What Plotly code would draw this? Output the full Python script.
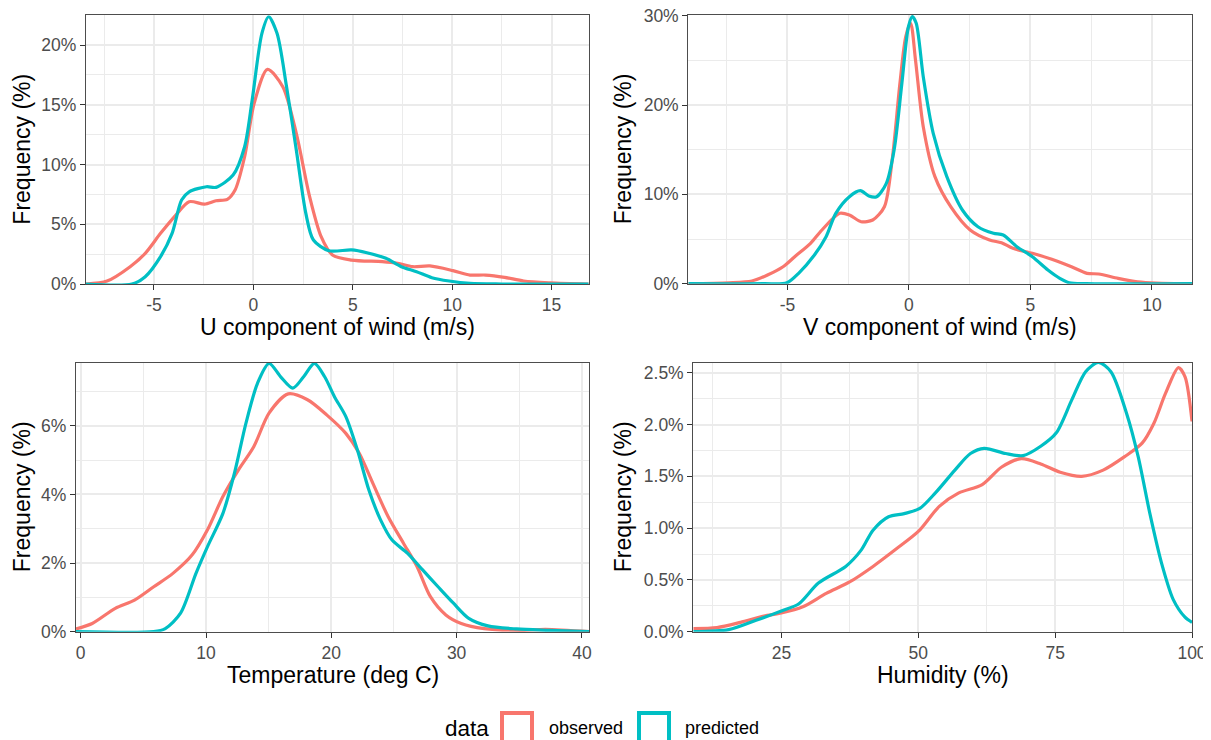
import plotly.graph_objects as go

W, H = 1211, 740
OFF = 8  # browser body margin offset
FW, FH = W - OFF, H - OFF
RED = "#F8766D"
TEAL = "#00BFC4"
FONT = "Liberation Sans, Arial, sans-serif"

# ---------------- data (density, % frequency) ----------------
# U component of wind (m/s)
u_obs_x = [-8.42, -7.36, -6.2, -5.44, -4.67, -3.9, -3.23, -2.46, -1.88, -1.31, -0.92, -0.44, 0.04, 0.71, 1.48, 2.16, 2.83, 3.41, 3.98, 4.94, 6.48, 7.26, 8.02, 8.88, 10.04, 10.9, 11.68, 12.64, 13.6, 14.94, 16.87]
u_obs_y = [0.0, 0.25, 1.45, 2.57, 4.24, 5.77, 6.89, 6.69, 6.97, 7.09, 7.87, 10.65, 15.12, 17.96, 16.51, 12.61, 7.31, 3.96, 2.43, 2.0, 1.87, 1.73, 1.45, 1.51, 1.12, 0.75, 0.75, 0.56, 0.25, 0.1, 0.0]
u_pred_x = [-8.42, -6.11, -5.44, -4.67, -4.09, -3.61, -3.23, -2.36, -1.88, -1.02, -0.44, -0.06, 0.43, 0.77, 1.19, 1.67, 2.16, 2.64, 3.02, 3.79, 4.94, 5.71, 6.67, 7.44, 8.21, 8.98, 9.85, 10.9, 12.5, 16.87]
u_pred_y = [0.0, 0.0, 0.61, 2.29, 4.24, 7.03, 7.72, 8.14, 8.09, 9.12, 11.49, 15.4, 20.98, 22.37, 20.98, 16.51, 11.21, 5.91, 3.68, 2.79, 2.85, 2.62, 2.15, 1.45, 1.03, 0.53, 0.25, 0.05, 0.0, 0.0]

# V component of wind (m/s)
v_obs_x = [-9.08, -7.42, -6.46, -5.82, -5.18, -4.7, -4.05, -3.58, -2.85, -2.45, -1.97, -1.49, -1.01, -0.69, -0.37, -0.13, 0.07, 0.27, 0.59, 1.07, 1.72, 2.52, 3.32, 3.81, 4.28, 5.08, 5.88, 6.69, 7.33, 7.81, 8.61, 9.41, 10.2, 11.65]
v_obs_y = [0.0, 0.1, 0.3, 0.97, 1.9, 3.02, 4.52, 6.01, 7.88, 7.69, 6.94, 7.13, 8.62, 13.85, 22.44, 27.66, 29.16, 25.05, 17.58, 11.98, 8.62, 6.01, 4.89, 4.59, 3.96, 3.4, 2.73, 1.9, 1.16, 1.09, 0.6, 0.22, 0.07, 0.0]
v_pred_x = [-9.08, -5.98, -5.02, -4.54, -3.89, -3.41, -3.01, -2.45, -2.0, -1.65, -1.33, -0.93, -0.61, -0.29, -0.02, 0.14, 0.3, 0.59, 1.0, 1.56, 2.2, 2.84, 3.48, 3.88, 4.44, 5.08, 5.72, 6.21, 6.6, 7.3, 11.65]
v_pred_y = [0.0, 0.0, 0.1, 1.16, 3.21, 5.26, 7.88, 9.74, 10.41, 9.82, 9.74, 11.24, 14.97, 22.44, 28.78, 29.9, 29.16, 23.18, 16.84, 11.98, 8.25, 6.38, 5.64, 5.45, 4.14, 3.02, 1.53, 0.6, 0.1, 0.0, 0.0]

# Temperature (deg C)
t_obs_x = [-0.375, 0.92, 2.76, 4.29, 5.83, 7.36, 8.9, 10.12, 11.35, 12.58, 13.81, 15.03, 16.56, 18.1, 19.63, 21.16, 22.23, 23.31, 24.54, 25.76, 26.84, 27.91, 29.14, 30.37, 32.2, 35.0, 37.1, 40.59]
t_obs_y = [0.08, 0.24, 0.68, 0.92, 1.31, 1.7, 2.24, 2.97, 3.94, 4.71, 5.39, 6.37, 6.93, 6.76, 6.32, 5.78, 5.2, 4.33, 3.35, 2.58, 1.9, 1.02, 0.49, 0.24, 0.09, 0.04, 0.07, 0.0]
t_pred_x = [-0.375, 5.83, 6.75, 7.97, 9.2, 10.12, 11.35, 12.27, 13.19, 14.11, 15.03, 15.96, 16.93, 17.79, 18.65, 19.47, 20.25, 21.16, 22.08, 23.0, 23.93, 24.85, 26.07, 27.29, 28.52, 29.75, 30.97, 32.5, 34.8, 37.4, 40.59]
t_pred_y = [0.0, 0.0, 0.09, 0.54, 1.7, 2.48, 3.45, 4.62, 6.08, 7.24, 7.82, 7.43, 7.1, 7.43, 7.82, 7.43, 6.85, 6.27, 5.3, 4.13, 3.26, 2.67, 2.29, 1.8, 1.31, 0.83, 0.39, 0.17, 0.08, 0.04, 0.0]

# Humidity (%)
h_obs_x = [8.91, 13.24, 17.52, 21.79, 25.0, 28.92, 33.19, 37.46, 41.74, 46.01, 50.06, 53.84, 57.41, 61.68, 65.24, 68.8, 72.37, 75.93, 79.85, 83.77, 87.69, 90.89, 93.02, 95.16, 97.52, 98.73, 100.0]
h_obs_y = [0.03, 0.04, 0.09, 0.15, 0.18, 0.24, 0.37, 0.48, 0.63, 0.8, 0.97, 1.21, 1.34, 1.42, 1.59, 1.67, 1.62, 1.54, 1.5, 1.56, 1.69, 1.82, 2.01, 2.3, 2.55, 2.46, 2.03]
h_pred_x = [8.91, 15.38, 20.37, 25.0, 28.2, 31.76, 36.75, 39.6, 41.74, 44.58, 47.44, 50.28, 53.13, 56.69, 59.54, 62.04, 65.96, 69.17, 72.37, 75.22, 78.06, 80.57, 82.9, 85.19, 88.04, 90.17, 92.31, 94.45, 96.58, 98.72, 100.0]
h_pred_y = [0.0, 0.02, 0.11, 0.2, 0.27, 0.47, 0.63, 0.79, 0.98, 1.11, 1.14, 1.19, 1.34, 1.56, 1.72, 1.77, 1.72, 1.7, 1.79, 1.92, 2.24, 2.51, 2.6, 2.51, 2.11, 1.69, 1.14, 0.66, 0.31, 0.14, 0.09]

# tick values / labels
u_xticks = [-5, 0, 5, 10, 15]
u_xlabels = ["-5", "0", "5", "10", "15"]
u_yticks = [0, 5, 10, 15, 20]
u_ylabels = ["0%", "5%", "10%", "15%", "20%"]
v_xticks = [-5, 0, 5, 10]
v_xlabels = ["-5", "0", "5", "10"]
v_yticks = [0, 10, 20, 30]
v_ylabels = ["0%", "10%", "20%", "30%"]
t_xticks = [0, 10, 20, 30, 40]
t_xlabels = ["0", "10", "20", "30", "40"]
t_yticks = [0, 2, 4, 6]
t_ylabels = ["0%", "2%", "4%", "6%"]
h_xticks = [25, 50, 75, 100]
h_xlabels = ["25", "50", "75", "100"]
h_yticks = [0, 0.5, 1.0, 1.5, 2.0, 2.5]
h_ylabels = ["0.0%", "0.5%", "1.0%", "1.5%", "2.0%", "2.5%"]

x_titles = ["U component of wind (m/s)", "V component of wind (m/s)", "Temperature (deg C)", "Humidity (%)"]
y_title = "Frequency (%)"
legend_title = "data"
series_names = ["observed", "predicted"]

# ---------------- layout geometry (reference pixels) ----------------
def fx(px):
    return (px - OFF) / FW

def fy(py):
    return 1 - (py - OFF) / FH

panels = [
    dict(box=(86, 588.7, 15.3, 284.0), xr=[-8.42, 16.87], yr=[0, 22.49], xm=2.5, ym=2.5,
         xt=(u_xticks, u_xlabels), yt=(u_yticks, u_ylabels),
         obs=(u_obs_x, u_obs_y), pred=(u_pred_x, u_pred_y)),
    dict(box=(688.3, 1192, 15.0, 283.7), xr=[-9.08, 11.65], yr=[0, 30.08], xm=2.5, ym=5,
         xt=(v_xticks, v_xlabels), yt=(v_yticks, v_ylabels),
         obs=(v_obs_x, v_obs_y), pred=(v_pred_x, v_pred_y)),
    dict(box=(76, 589.3, 362.7, 631.7), xr=[-0.375, 40.59], yr=[0, 7.84], xm=5, ym=1,
         xt=(t_xticks, t_xlabels), yt=(t_yticks, t_ylabels),
         obs=(t_obs_x, t_obs_y), pred=(t_pred_x, t_pred_y)),
    dict(box=(693.3, 1192, 362.7, 631.7), xr=[8.91, 100], yr=[0, 2.597], xm=12.5, ym=0.25,
         xt=(h_xticks, h_xlabels), yt=(h_yticks, h_ylabels),
         obs=(h_obs_x, h_obs_y), pred=(h_pred_x, h_pred_y)),
]

fig = go.Figure()
annotations = []
shapes = []

for i, p in enumerate(panels):
    n = "" if i == 0 else str(i + 1)
    x0, x1, y0, y1 = p["box"]
    for (xs, ys), col in ((p["obs"], RED), (p["pred"], TEAL)):
        fig.add_trace(go.Scatter(
            x=xs, y=ys, mode="lines", xaxis="x" + n, yaxis="y" + n,
            line=dict(color=col, width=3.2, shape="spline", smoothing=0.8),
            showlegend=False, hoverinfo="skip"))
    common = dict(
        showgrid=True, gridcolor="#EBEBEB", gridwidth=1.5,
        showline=True, linecolor="#4D4D4D", linewidth=1.2, mirror=True,
        ticks="outside", ticklen=5, tickwidth=1.2, tickcolor="#333333",
        tickfont=dict(family=FONT, size=17.5, color="#4D4D4D"),
        ticklabeloverflow="allow",
        zeroline=False, automargin=False, fixedrange=True,
    )
    fig.layout["xaxis" + n] = dict(
        common, domain=[fx(x0), fx(x1)], anchor="y" + n, range=p["xr"],
        tickmode="array", tickvals=p["xt"][0], ticktext=p["xt"][1],
        minor=dict(tickmode="linear", tick0=0, dtick=p["xm"], showgrid=True,
                   gridcolor="#EBEBEB", gridwidth=0.8, ticks=""),
    )
    fig.layout["yaxis" + n] = dict(
        common, domain=[fy(y1), fy(y0)], anchor="x" + n, range=p["yr"],
        tickmode="array", tickvals=p["yt"][0], ticktext=p["yt"][1],
        minor=dict(tickmode="linear", tick0=0, dtick=p["ym"], showgrid=True,
                   gridcolor="#EBEBEB", gridwidth=0.8, ticks=""),
    )
    # axis titles
    xc = (x0 + x1) / 2
    annotations.append(dict(text=x_titles[i], xref="paper", yref="paper", x=fx(xc), y=fy(y1 + 43),
                            xanchor="center", yanchor="middle", showarrow=False,
                            font=dict(family=FONT, size=23, color="black")))
    yx = 22 if i % 2 == 0 else 623
    annotations.append(dict(text=y_title, xref="paper", yref="paper", x=fx(yx), y=fy((y0 + y1) / 2),
                            xanchor="center", yanchor="middle", textangle=-90, showarrow=False,
                            font=dict(family=FONT, size=23, color="black")))

# ---------------- legend (ggplot style) ----------------
leg_y = 728
annotations.append(dict(text=legend_title, xref="paper", yref="paper", x=fx(443), y=fy(leg_y),
                        xanchor="left", yanchor="middle", showarrow=False,
                        font=dict(family=FONT, size=22.5, color="black")))
for name, col, bx, tx in ((series_names[0], RED, 502, 547), (series_names[1], TEAL, 639, 683)):
    shapes.append(dict(type="rect", xref="paper", yref="paper",
                       x0=fx(bx), x1=fx(bx + 30), y0=fy(713), y1=fy(743),
                       line=dict(color=col, width=4), fillcolor="rgba(0,0,0,0)"))
    annotations.append(dict(text=name, xref="paper", yref="paper", x=fx(tx), y=fy(leg_y),
                            xanchor="left", yanchor="middle", showarrow=False,
                            font=dict(family=FONT, size=18, color="black")))

fig.update_layout(
    width=FW, height=FH, margin=dict(l=0, r=0, t=0, b=0),
    paper_bgcolor="white", plot_bgcolor="white",
    showlegend=False, annotations=annotations, shapes=shapes,
    font=dict(family=FONT),
)

fig.write_html("out.html")
